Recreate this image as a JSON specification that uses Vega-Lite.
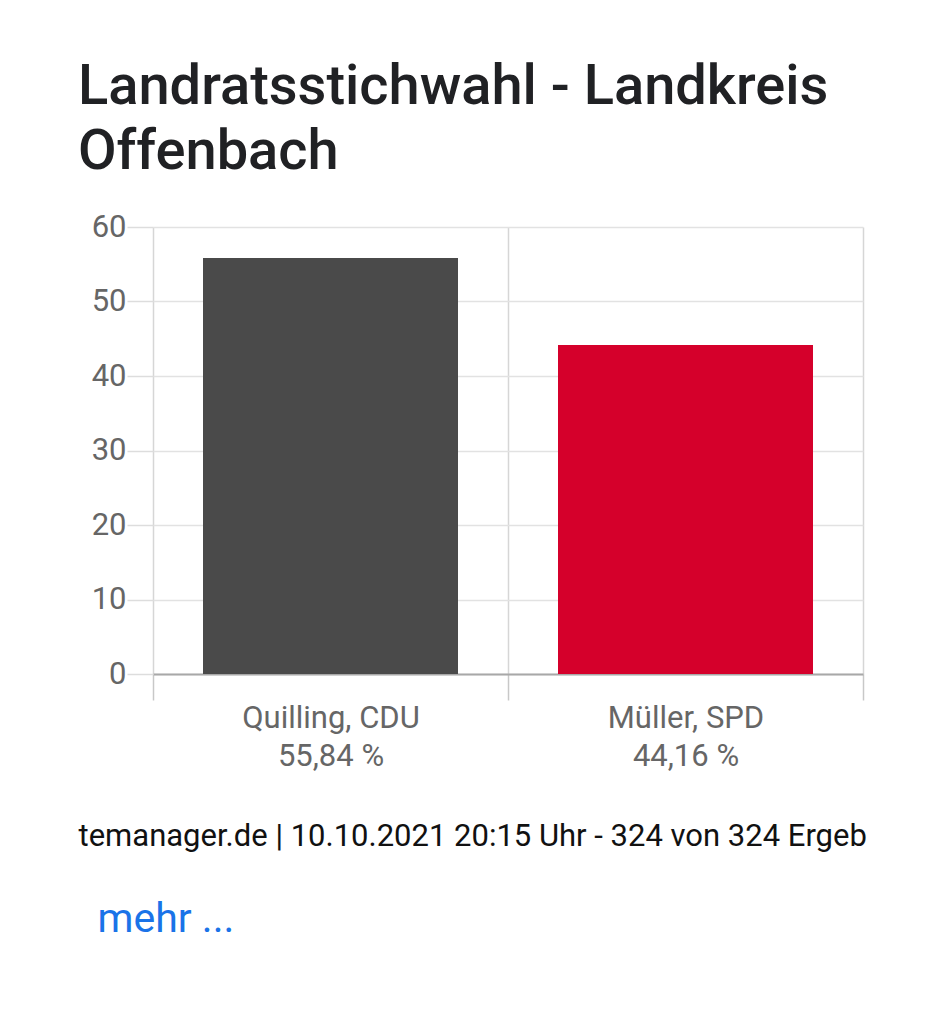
{
  "$schema": "https://vega.github.io/schema/vega-lite/v6.json",
  "width": 710,
  "height": 447,
  "autosize": {"type": "none"},
  "padding": {"left": 153, "top": 227, "right": 85, "bottom": 350},
  "background": "white",
  "title": {
    "text": ["Landratsstichwahl - Landkreis", "Offenbach"],
    "anchor": "start",
    "frame": "group",
    "dx": -75,
    "font": "Roboto",
    "fontSize": 56,
    "fontWeight": 500,
    "color": "#202124",
    "lineHeight": 65,
    "baseline": "top",
    "offset": 30
  },
  "data": {
    "values": [
      {"kandidat": "Quilling, CDU", "achse": "Quilling, CDU|55,84 %", "prozent": 55.84},
      {"kandidat": "Müller, SPD", "achse": "Müller, SPD|44,16 %", "prozent": 44.16}
    ]
  },
  "encoding": {
    "y": {
      "field": "prozent",
      "type": "quantitative",
      "scale": {"domain": [0, 60], "nice": false},
      "axis": {
        "title": null,
        "values": [0, 10, 20, 30, 40, 50, 60],
        "domain": false,
        "tickSize": 26,
        "tickColor": "#dddddd",
        "gridColor": "#e2e2e2",
        "labelFont": "Roboto",
        "labelFontSize": 31,
        "labelColor": "#666666",
        "labelPadding": 1
      }
    },
    "color": {
      "field": "kandidat",
      "type": "nominal",
      "scale": {"domain": ["Quilling, CDU", "Müller, SPD"], "range": ["#4a4a4a", "#d5002b"]},
      "legend": null
    }
  },
  "layer": [
    {
      "transform": [{"filter": "datum.kandidat == 'Quilling, CDU'"}],
      "mark": {"type": "bar", "width": {"band": 0.7183}},
      "encoding": {
        "x": {
          "field": "achse",
          "type": "nominal",
          "sort": null,
          "scale": {"domain": ["Quilling, CDU|55,84 %", "Müller, SPD|44,16 %"], "paddingInner": 0, "paddingOuter": 0},
          "axis": {
            "labelAngle": 0,
            "labelExpr": "split(datum.label, '|')",
            "labelFont": "Roboto",
            "labelFontSize": 31,
            "labelColor": "#666666",
            "labelLineHeight": 38,
            "labelPadding": 3,
            "tickBand": "extent",
            "tickSize": 26,
            "tickColor": "#c8c8c8",
            "grid": true,
            "gridColor": "#d6d6d6",
            "domainColor": "#a8a8a8",
            "domainWidth": 2,
            "title": "temanager.de | 10.10.2021 20:15 Uhr - 324 von 324 Ergeb",
            "titleFont": "Roboto",
            "titleFontSize": 31,
            "titleFontWeight": "normal",
            "titleColor": "#111111",
            "titleAnchor": "start",
            "titleAlign": "left",
            "titleX": -75,
            "titlePadding": 50
          }
        }
      }
    },
    {
      "transform": [{"filter": "datum.kandidat == 'Müller, SPD'"}],
      "mark": {"type": "bar", "width": {"band": 0.7183}},
      "encoding": {
        "x": {
          "field": "achse",
          "type": "nominal",
          "sort": null,
          "axis": {
            "labels": false,
            "ticks": false,
            "domain": false,
            "grid": false,
            "title": "mehr ...",
            "titleFont": "Roboto",
            "titleFontSize": 41,
            "titleFontWeight": "normal",
            "titleColor": "#1a73e8",
            "titleAnchor": "start",
            "titleAlign": "left",
            "titleBaseline": "top",
            "titleX": -56,
            "titleY": 672
          }
        }
      }
    }
  ],
  "resolve": {"axis": {"x": "independent"}},
  "config": {
    "view": {"stroke": null},
    "axis": {"gridWidth": 1.5, "tickWidth": 1.5}
  }
}
